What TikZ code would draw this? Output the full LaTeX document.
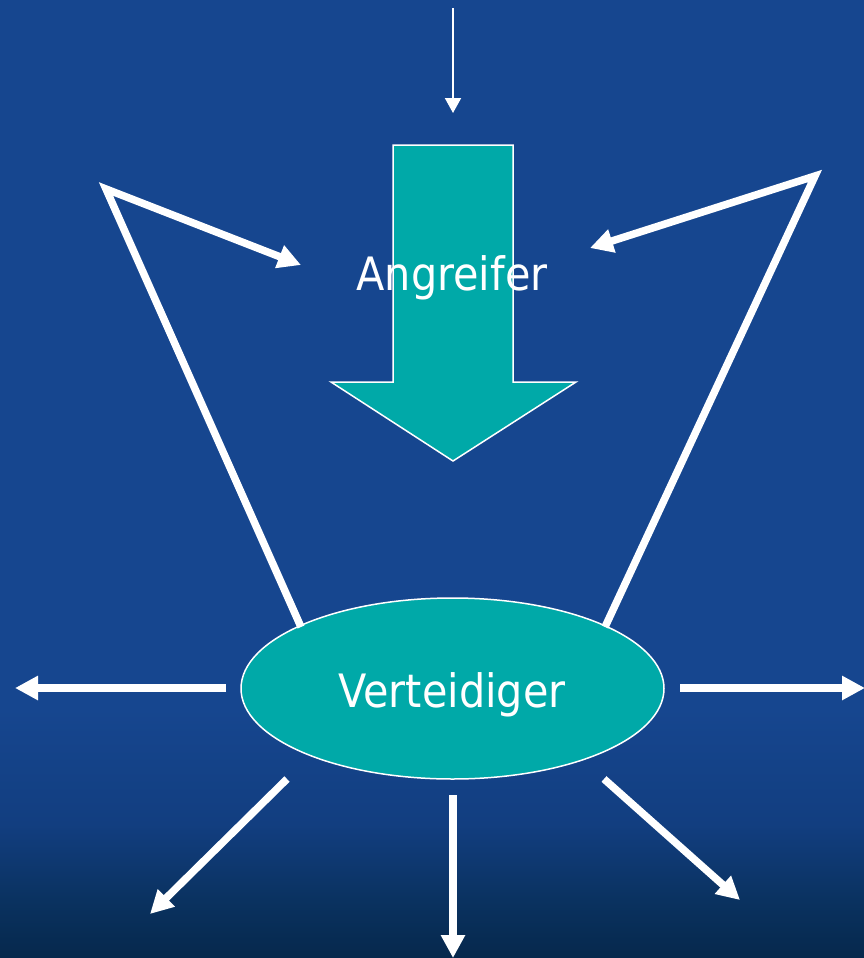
\documentclass[tikz,border=0pt]{standalone}
\usepackage{fontspec}
\setmainfont{DejaVu Sans}[FakeStretch=0.9]
\usetikzlibrary{arrows.meta,shapes.geometric}
\definecolor{tealfill}{RGB}{0,169,168}
\definecolor{bgtop}{RGB}{22,70,143}
\definecolor{bgmid}{RGB}{18,62,128}
\definecolor{bglow}{RGB}{10,50,96}
\definecolor{bgbot}{RGB}{6,40,76}
\pgfdeclareverticalshading{bgshade}{100bp}{color(0bp)=(bgbot); color(25bp)=(bgbot); color(28bp)=(bglow); color(32bp)=(bgmid); color(38bp)=(bgtop); color(75bp)=(bgtop); color(100bp)=(bgtop)}
\begin{document}
\begin{tikzpicture}[x=1pt,y=-1pt,
  thickarrow/.style={draw=white, line width=7.5pt, line join=miter, -{Triangle[length=23pt,width=23pt]}},
  thinarrow/.style={draw=white, line width=2pt, -{Triangle[length=15pt,width=16pt]}},
  tealshape/.style={fill=tealfill, draw=white, line width=1.5pt},
  lbl/.style={text=white, font=\fontsize{46}{50}\selectfont, inner sep=0pt, anchor=base}]
\shade[shading=bgshade] (0,0) rectangle (864,958);
\useasboundingbox (0,0) rectangle (864,958);
% top thin arrow
\coordinate (ts) at (453,8);
\coordinate (te) at (453,113);
\draw[thinarrow] (ts) -- (te);
% block arrow
\draw[tealshape] (393,145) -- (513,145) -- (513,382) -- (576,382) -- (453,461) -- (331,382) -- (393,382) -- cycle;
\node[lbl] (att) at (452,290) {Angreifer};
% defender
\node[ellipse, tealshape, minimum width=423pt, minimum height=181pt, inner sep=0pt] (def) at (452.5,688.5) {};
\node[lbl] (deflabel) at (452,707) {Verteidiger};
% V arrows
\coordinate (lfoot) at (301,627);
\coordinate (lapex) at (106,189);
\coordinate (ltip) at (301,265);
\draw[thickarrow] (lfoot) -- (lapex) -- (ltip);
\coordinate (rfoot) at (605,627);
\coordinate (rapex) at (815,176);
\coordinate (rtip) at (590,248);
\draw[thickarrow] (rfoot) -- (rapex) -- (rtip);
% outgoing arrows
\coordinate (lhs) at (226,688);
\coordinate (lhe) at (15,688);
\draw[thickarrow] (lhs) -- (lhe);
\coordinate (rhs) at (680,688);
\coordinate (rhe) at (865,688);
\draw[thickarrow] (rhs) -- (rhe);
\coordinate (bls) at (287,779);
\coordinate (ble) at (150,914);
\draw[thickarrow] (bls) -- (ble);
\coordinate (bcs) at (453,795);
\coordinate (bce) at (453,958);
\draw[thickarrow] (bcs) -- (bce);
\coordinate (brs) at (604,779);
\coordinate (bre) at (740,900);
\draw[thickarrow] (brs) -- (bre);
\end{tikzpicture}
\end{document}
